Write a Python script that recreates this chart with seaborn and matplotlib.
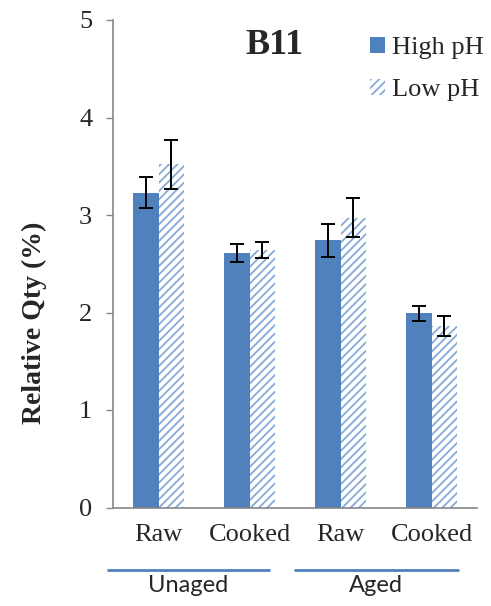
import pandas as pd
import seaborn as sns
import matplotlib.pyplot as plt
from matplotlib.transforms import blended_transform_factory

# datos (B11)
conditions = ['Unaged Raw', 'Unaged Cooked', 'Aged Raw', 'Aged Cooked']
tick_labels = ['Raw', 'Cooked', 'Raw', 'Cooked']
high_ph = [3.23, 2.61, 2.74, 1.99]
high_ph_err = [0.155, 0.095, 0.17, 0.075]
low_ph = [3.52, 2.64, 2.97, 1.86]
low_ph_err = [0.25, 0.08, 0.20, 0.10]
groups = ['Unaged', 'Aged']

df = pd.DataFrame({
    'cond': conditions * 2,
    'value': high_ph + low_ph,
    'err': high_ph_err + low_ph_err,
    'ph': ['High pH'] * 4 + ['Low pH'] * 4,
})

sns.set_style('white')
plt.rcParams['font.family'] = ['Liberation Serif', 'DejaVu Serif']
plt.rcParams['hatch.linewidth'] = 1.3

blue = '#4F81BD'
hatch_col = '#86A9D8'

fig = plt.figure(figsize=(4.91, 6.06), dpi=100)
ax = fig.add_axes([113 / 491, (606 - 507.5) / 606, 364 / 491, 487.5 / 606])

sns.barplot(data=df, x='cond', y='value', hue='ph', palette=[blue, 'white'],
            width=0.57, gap=0, errorbar=None, legend=False, ax=ax,
            saturation=1, linewidth=0)

for bar in ax.containers[1]:
    bar.set_facecolor('white')
    bar.set_edgecolor(hatch_col)
    bar.set_hatch('////')
    bar.set_linewidth(0)

# barras de error
for cont, ph in zip(ax.containers, ['High pH', 'Low pH']):
    sub = df[df['ph'] == ph]
    xs = [b.get_x() + b.get_width() / 2 for b in cont]
    ax.errorbar(xs, sub['value'], yerr=sub['err'], fmt='none', ecolor='black',
                elinewidth=1.4, capsize=5, capthick=1.4)

ax.set_xlim(-0.5, 3.5)
ax.set_ylim(0, 5)
ax.set_yticks(range(6))
ax.set_xticks(range(4))
ax.set_xticklabels(tick_labels)
ax.tick_params(axis='x', length=0, pad=12, labelsize=19)
ax.tick_params(axis='y', length=5, width=1, color='#868686', pad=10, labelsize=19, left=True)
ax.set_xlabel('')
ax.set_ylabel('Relative Qty (%)', fontsize=20, fontweight='bold')
ax.yaxis.set_label_coords(-0.215, 0.378)
ax.yaxis.label.set_va('center')

sns.despine(ax=ax)
for s in ['left', 'bottom']:
    ax.spines[s].set_color('#868686')
    ax.spines[s].set_linewidth(1.2)

# grupos debajo del eje
trans = blended_transform_factory(ax.transData, ax.transAxes)
lines = [(-0.56, 1.21), (1.505, 3.286)]
centers = [0.33, 2.385]
for (x0, x1), cx, g in zip(lines, centers, groups):
    ax.plot([x0, x1], [-0.128, -0.128], color=blue, lw=2, transform=trans, clip_on=False)
    ax.text(cx, -0.16, g, transform=trans, ha='center', va='center',
            fontsize=17, family=['Lato', 'DejaVu Sans'])

fig.text(275 / 491, 1 - 46 / 606, 'B11', ha='center', va='center',
         fontsize=26, fontweight='bold')

ax.legend(handles=[ax.containers[0][0], ax.containers[1][0]],
          labels=['High pH', 'Low pH'], loc='upper left',
          bbox_to_anchor=(370 / 491, 1 - 37 / 606), bbox_transform=fig.transFigure,
          frameon=False, fontsize=19, handlelength=0.55, handleheight=0.55,
          handletextpad=0.3, labelspacing=0.75, borderpad=0, borderaxespad=0)

fig.savefig('out.png', dpi=100)
